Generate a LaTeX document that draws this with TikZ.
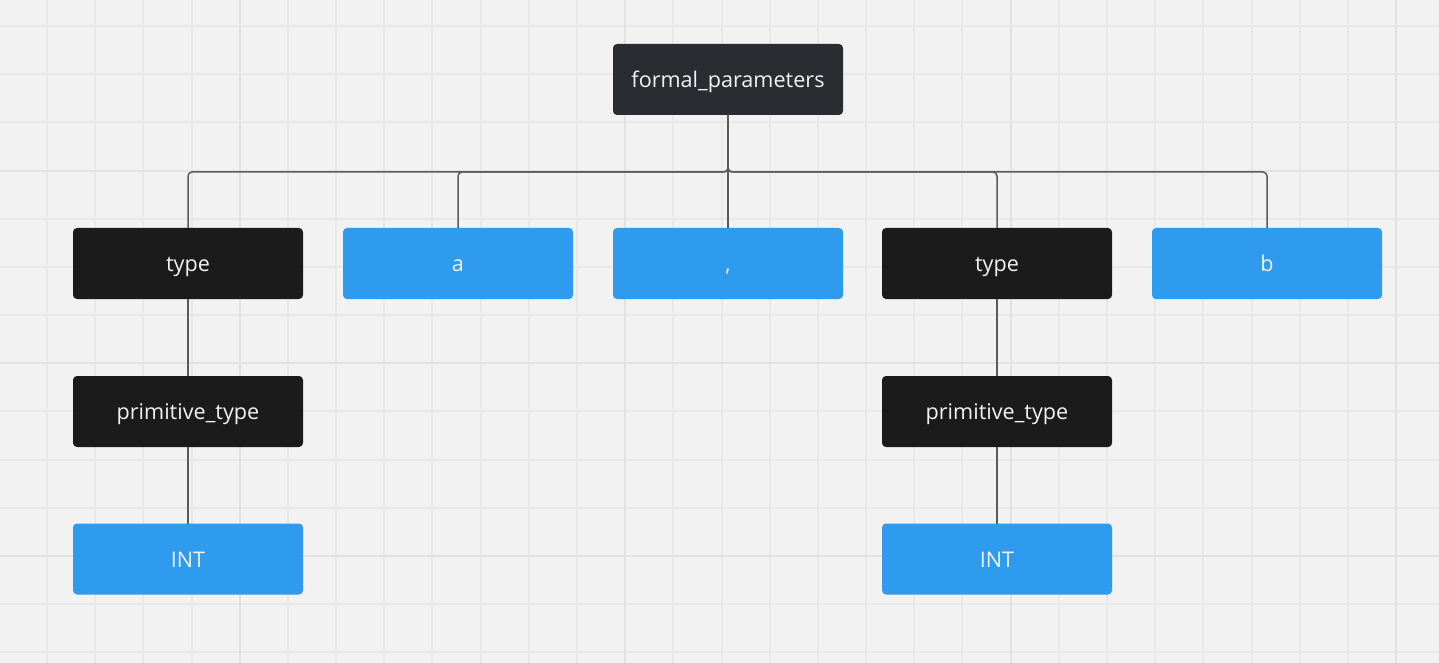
\documentclass[tikz,border=0pt]{standalone}
\usepackage{fontspec}
\setmainfont{Open Sans}
\definecolor{bg}{HTML}{F2F2F2}
\definecolor{gridminor}{HTML}{E8E8E8}
\definecolor{gridmajor}{HTML}{E2E2E2}
\definecolor{rootfill}{HTML}{2B2C31}
\definecolor{darkfill}{HTML}{1B1B1B}
\definecolor{bluefill}{HTML}{2F9BEF}
\definecolor{linecol}{HTML}{5A5A5A}
\definecolor{txt}{HTML}{F2F2F2}
\tikzset{
  box/.style={minimum width=115pt, minimum height=35.5pt, rounded corners=2pt,
    text=txt, font=\fontsize{10.8}{12}\selectfont, inner sep=0pt, outer sep=0pt,
    text height=10pt, text depth=2pt},
  rootbox/.style={box, fill=rootfill},
  darkbox/.style={box, fill=darkfill},
  bluebox/.style={box, fill=bluefill},
  link/.style={draw=linecol, line width=0.75pt, rounded corners=2pt}
}
\begin{document}
\begin{tikzpicture}[x=0.5pt,y=-0.5pt]
\fill[bg] (0,0) rectangle (1439,663);
\useasboundingbox (0,0) rectangle (1439,663);
% grid
\foreach \i in {0,...,29} {
  \draw[gridminor, line width=1pt] ({47+48.18*\i},0) -- ({47+48.18*\i},663);
}
\foreach \j in {0,...,13} {
  \draw[gridminor, line width=1pt] (0,{26+48.18*\j}) -- (1439,{26+48.18*\j});
}
\foreach \i in {4,12,20,28} {
  \draw[gridmajor, line width=1pt] ({47+48.18*\i},0) -- ({47+48.18*\i},663);
}
\foreach \j in {3,7,11} {
  \draw[gridmajor, line width=1pt] (0,{26+48.18*\j}) -- (1439,{26+48.18*\j});
}
% nodes
\node[rootbox] (root) at (728,79.5) {formal\_parameters};
\node[darkbox] (type1) at (188,263.5) {type};
\node[bluebox] (a) at (458,263.5) {a};
\node[bluebox] (comma) at (728,263.5) {,};
\node[darkbox] (type2) at (997,263.5) {type};
\node[bluebox] (b) at (1267,263.5) {b};
\node[darkbox] (prim1) at (188,411.5) {primitive\_type};
\node[darkbox] (prim2) at (997,411.5) {primitive\_type};
\node[bluebox] (int1) at (188,559) {INT};
\node[bluebox] (int2) at (997,559) {INT};
% connectors
\foreach \c in {type1,a,comma,type2,b} {
  \draw[link] (root.south) -- ++(0,57) -| (\c.north);
}
\draw[link] (type1.south) -- (prim1.north);
\draw[link] (prim1.south) -- (int1.north);
\draw[link] (type2.south) -- (prim2.north);
\draw[link] (prim2.south) -- (int2.north);
\end{tikzpicture}
\end{document}
